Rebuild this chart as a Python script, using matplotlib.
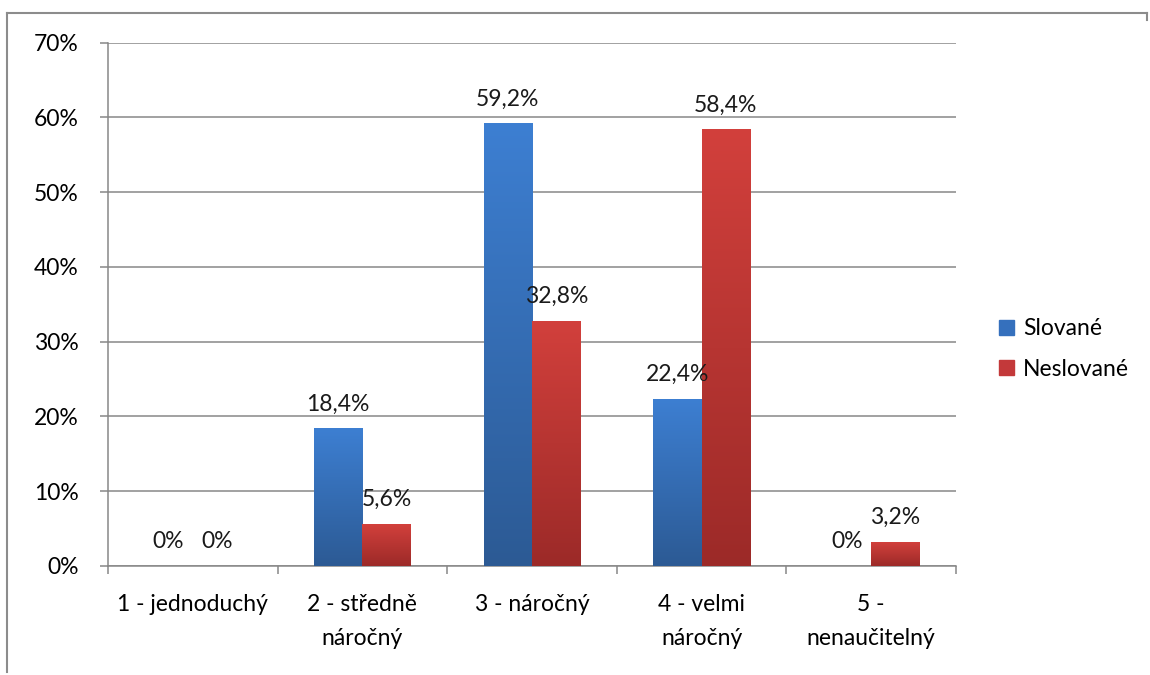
import numpy as np
import matplotlib
matplotlib.use("Agg")
from matplotlib import pyplot as plt
from matplotlib.colors import LinearSegmentedColormap
from matplotlib.lines import Line2D
import matplotlib.patches as mpatches

plt.rcParams['font.family'] = ['Lato', 'DejaVu Sans']

# data
categories = ['1 - jednoduchý', '2 - středně\nnáročný', '3 - náročný', '4 - velmi\nnáročný', '5 -\nnenaučitelný']
slovane = [0, 18.4, 59.2, 22.4, 0]
neslovane = [0, 5.6, 32.8, 58.4, 3.2]
series_names = ['Slované', 'Neslované']

blue_grad = LinearSegmentedColormap.from_list('b', ['#2c5a94', '#3d7fd2'])
red_grad = LinearSegmentedColormap.from_list('r', ['#9c2a28', '#d2403c'])

fig = plt.figure(figsize=(11.5, 6.75), dpi=100)
ax = fig.add_axes([0.0939, 0.1615, 0.7374, 0.7753])

x = np.arange(len(categories))
w = 0.2857
grid_col = '#878787'
fs = 16.5

def fmt(v):
    if v == 0:
        return '0%'
    return ('%.1f' % v).replace('.', ',') + '%'

grad = np.linspace(0, 1, 256).reshape(-1, 1)
for vals, offs, cmap in [(slovane, -w / 2, blue_grad), (neslovane, w / 2, red_grad)]:
    bars = ax.bar(x + offs, vals, width=w, color='none', zorder=3)
    for b, v in zip(bars, vals):
        if v > 0:
            im = ax.imshow(grad, cmap=cmap, aspect='auto', origin='lower',
                           extent=[b.get_x(), b.get_x() + b.get_width(), 0, v], zorder=3)
            im.set_clip_path(b)
        ax.annotate(fmt(v), (b.get_x() + b.get_width() / 2, v), xytext=(0, 10),
                    textcoords='offset points', ha='center', va='bottom',
                    fontsize=fs, color='#1a1a1a', zorder=5)

ax.set_xlim(-0.5, len(categories) - 0.5)
ax.set_ylim(0, 70)
ax.set_yticks(range(0, 71, 10))
ax.set_yticklabels(['%d%%' % t for t in range(0, 71, 10)], fontsize=fs)
ax.yaxis.grid(True, color=grid_col, linewidth=1.1, zorder=0)
ax.set_axisbelow(True)

ax.set_xticks(np.arange(-0.5, len(categories), 1))
ax.set_xticklabels([])
ax.set_xticks(x, minor=True)
ax.set_xticklabels(categories, minor=True, fontsize=fs, linespacing=1.75)
ax.tick_params(axis='x', which='minor', length=0, pad=20)
ax.tick_params(axis='x', which='major', length=6, color=grid_col, width=1.1)
ax.tick_params(axis='y', length=6, color=grid_col, width=1.1, pad=15)

for s in ['top', 'right']:
    ax.spines[s].set_visible(False)
for s in ['left', 'bottom']:
    ax.spines[s].set_color(grid_col)
    ax.spines[s].set_linewidth(1.1)

# legend
blue_patch = mpatches.Patch(color='#3570bd', label=series_names[0])
red_patch = mpatches.Patch(color='#c3393a', label=series_names[1])
fig.legend(handles=[blue_patch, red_patch], loc='center left', bbox_to_anchor=(0.851, 0.483),
           frameon=False, fontsize=fs, handlelength=0.65, handleheight=0.65,
           handletextpad=0.4, labelspacing=0.85)

# outer chart frame
fig.add_artist(Line2D([0.006, 0.997], [0.981, 0.981], color='#8c8c8c', linewidth=1.5))
fig.add_artist(Line2D([0.006, 0.006], [0.981, 0.005], color='#8c8c8c', linewidth=1.5))
fig.add_artist(Line2D([0.997, 0.997], [0.981, 0.97], color='#8c8c8c', linewidth=1.5))

fig.savefig('out.png', dpi=100)
